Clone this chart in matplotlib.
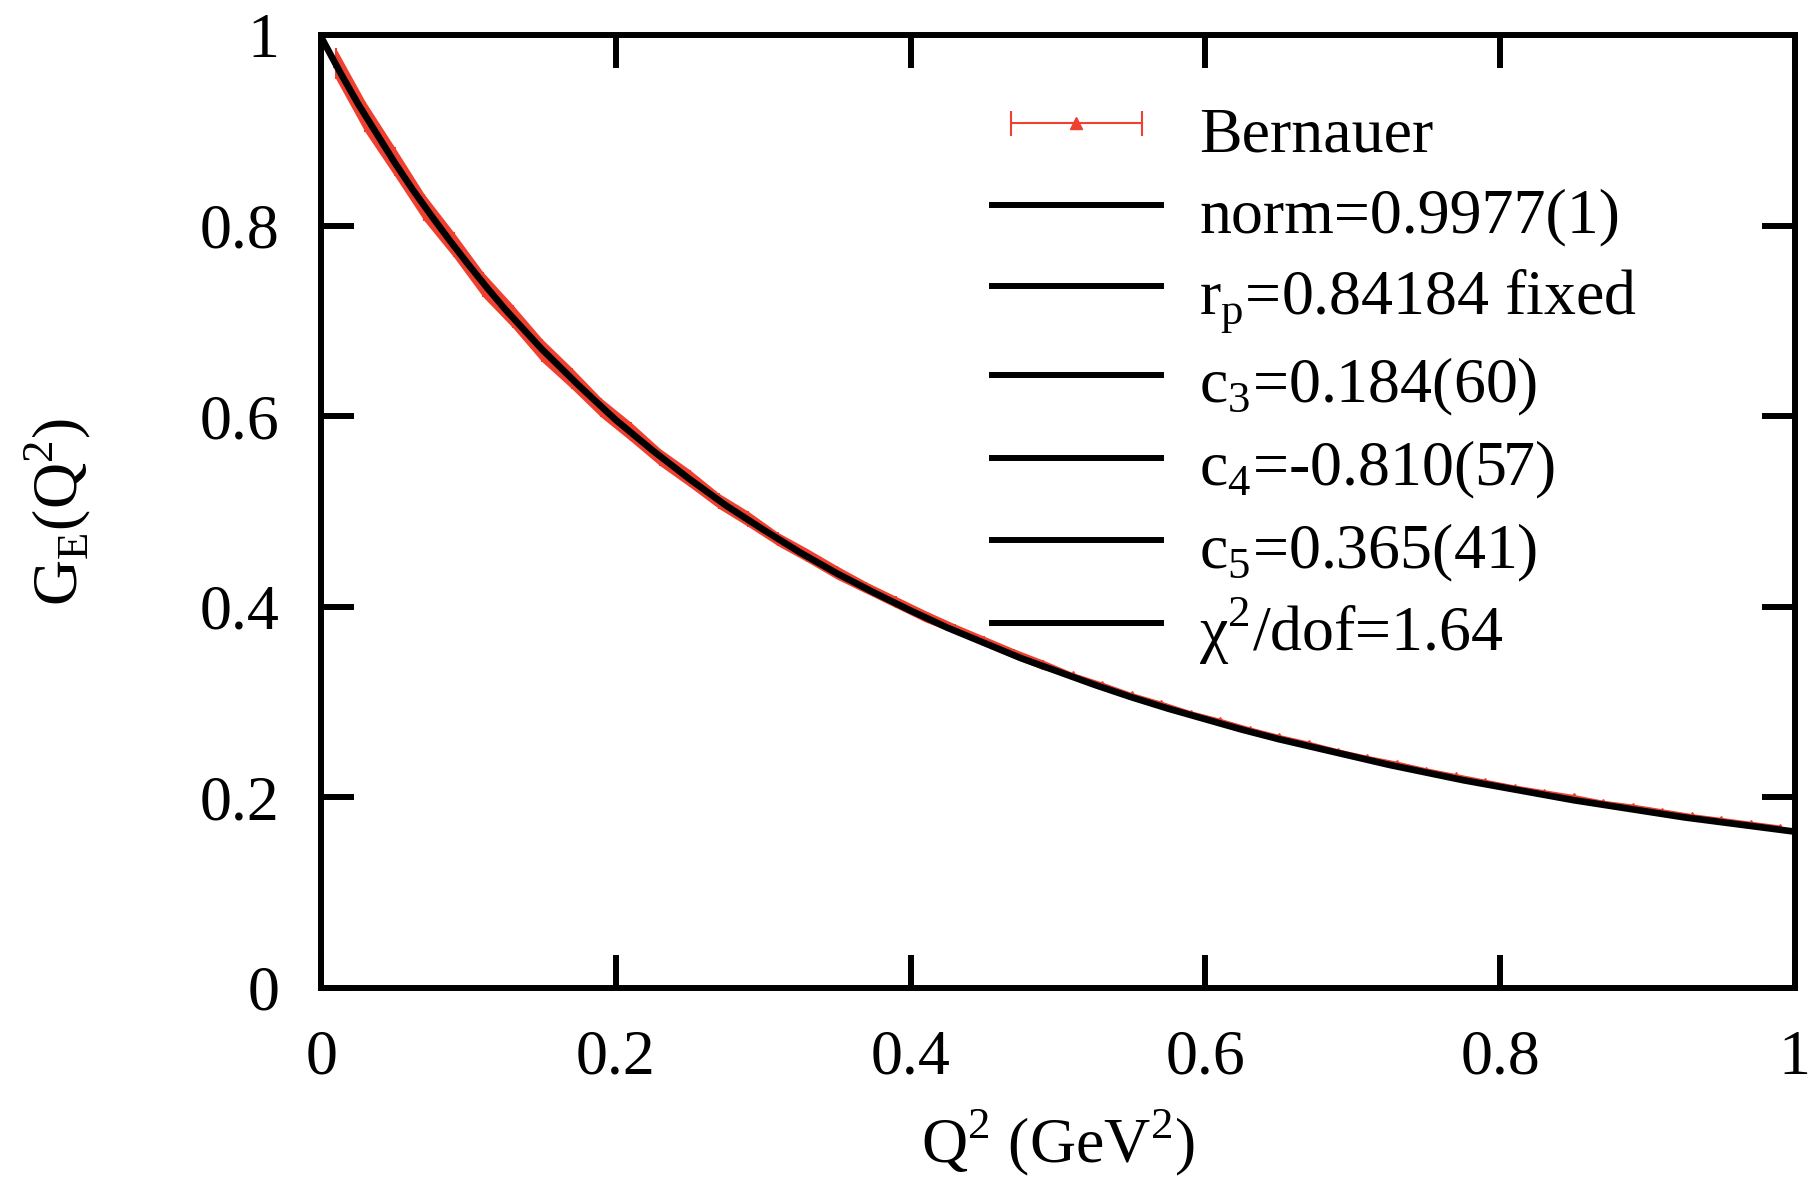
import matplotlib
matplotlib.use("Agg")
import matplotlib.pyplot as plt
import numpy as np
from matplotlib.lines import Line2D
from matplotlib.legend_handler import HandlerLine2D

plt.rcParams["font.family"] = ["Liberation Serif", "DejaVu Serif"]
plt.rcParams["mathtext.fontset"] = "custom"
plt.rcParams["mathtext.rm"] = "Liberation Serif"

# fit curve G_E(Q^2)
fit_q2 = [0.0, 0.0125, 0.025, 0.0375, 0.05, 0.0625, 0.075, 0.0875, 0.1, 0.1125, 0.125,
          0.1375, 0.15, 0.1625, 0.175, 0.1875, 0.2, 0.225, 0.25, 0.275,
          0.3, 0.325, 0.35, 0.375, 0.4, 0.425, 0.45, 0.475, 0.5, 0.525, 0.55, 0.575,
          0.6, 0.625, 0.65, 0.675, 0.7, 0.725, 0.75, 0.775, 0.8, 0.825, 0.85, 0.875,
          0.9, 0.925, 0.95, 0.975, 1.0]
fit_ge = [0.998, 0.962, 0.928, 0.897, 0.866, 0.837, 0.810, 0.784, 0.759, 0.735, 0.712,
          0.691, 0.670, 0.651, 0.632, 0.614, 0.596, 0.564, 0.534, 0.506,
          0.481, 0.457, 0.435, 0.415, 0.396, 0.378, 0.362, 0.346, 0.332, 0.318, 0.305, 0.293,
          0.282, 0.271, 0.261, 0.252, 0.243, 0.234, 0.226, 0.218, 0.211, 0.204, 0.197, 0.191,
          0.185, 0.179, 0.174, 0.169, 0.164]

# Bernauer data points
bern_q2 = [0.01, 0.03, 0.05, 0.07, 0.09, 0.11, 0.13, 0.15, 0.17, 0.19, 0.21, 0.23, 0.25,
           0.27, 0.29, 0.31, 0.33, 0.35, 0.37, 0.39, 0.41, 0.43, 0.45, 0.47, 0.49, 0.51,
           0.53, 0.55, 0.57, 0.59, 0.61, 0.63, 0.65, 0.67, 0.69, 0.71, 0.73, 0.75, 0.77,
           0.79, 0.81, 0.83, 0.85, 0.87, 0.89, 0.91, 0.93, 0.95, 0.97, 0.99]
bern_ge = [0.970, 0.914, 0.867, 0.819, 0.780, 0.738, 0.705, 0.669, 0.640, 0.609, 0.584, 0.557,
           0.535, 0.511, 0.492, 0.471, 0.454, 0.436, 0.420, 0.405, 0.390, 0.377, 0.364, 0.351,
           0.339, 0.329, 0.319, 0.308, 0.299, 0.289, 0.281, 0.272, 0.264, 0.257, 0.249, 0.242,
           0.236, 0.229, 0.223, 0.217, 0.211, 0.206, 0.201, 0.195, 0.191, 0.186, 0.181, 0.177,
           0.173, 0.169]
bern_err = [0.016, 0.016, 0.015, 0.014, 0.013, 0.013, 0.012, 0.012, 0.011, 0.010, 0.010, 0.009,
            0.009, 0.008, 0.008, 0.007, 0.007, 0.007, 0.006, 0.006, 0.006, 0.005, 0.005, 0.005,
            0.005, 0.002, 0.002, 0.002, 0.002, 0.002, 0.002, 0.002, 0.002, 0.002, 0.002, 0.002,
            0.002, 0.002, 0.002, 0.002, 0.002, 0.002, 0.002, 0.002, 0.002, 0.002, 0.002, 0.002,
            0.002, 0.002]

fit_labels = ["norm=0.9977(1)",
              r"r$_\mathregular{p}$=0.84184 fixed",
              r"c$_\mathregular{3}$=0.184(60)",
              r"c$_\mathregular{4}$=-0.810(57)",
              r"c$_\mathregular{5}$=0.365(41)",
              r"χ$^\mathregular{2}$/dof=1.64"]

xticks = [0, 0.2, 0.4, 0.6, 0.8, 1]
xticklabels = ["0", "0.2", "0.4", "0.6", "0.8", "1"]
yticks = [0, 0.2, 0.4, 0.6, 0.8, 1]
yticklabels = ["0", "0.2", "0.4", "0.6", "0.8", "1"]

red = "#f0402f"
fs = 46

fig = plt.figure(figsize=(18.15, 11.87), dpi=100)
ax = fig.add_axes([0.1769, 0.1677, 0.812, 0.8028])

# dense data -> error band shows as red halo around the fit
b = np.array(bern_ge)
e = np.array(bern_err)
ax.fill_between(bern_q2, b - e, b + e, color=red, lw=0, zorder=1)
ax.errorbar(bern_q2, bern_ge, yerr=bern_err, fmt="-^", color=red, ms=5, lw=1.2,
            elinewidth=1.5, capsize=0, zorder=2)
ax.plot(fit_q2, fit_ge, color="black", lw=4.8, zorder=3)

ax.set_xlim(0, 1)
ax.set_ylim(0, 1)
ax.set_xticks(xticks)
ax.set_xticklabels(xticklabels)
ax.set_yticks(yticks)
ax.set_yticklabels(yticklabels)
ax.tick_params(direction="in", length=24, width=4.3, labelsize=fs, pad=30,
               top=True, right=True)
for s in ax.spines.values():
    s.set_linewidth(4.3)

ax.set_xlabel(r"Q$^\mathregular{2}$ (GeV$^\mathregular{2}$)", fontsize=fs, labelpad=14)
ax.set_ylabel(r"G$_\mathregular{E}$(Q$^\mathregular{2}$)", fontsize=fs, labelpad=77)

# legend handles
caps = Line2D([0], [0], color=red, lw=1.5, marker="|", ms=18, mew=1.5)
tri = Line2D([0], [0], color=red, ls="none", marker="^", ms=8)
handles = [(caps, tri)] + [Line2D([0], [0], color="black", lw=4.3) for _ in fit_labels]
labels = ["Bernauer"] + fit_labels
ax.legend(handles, labels, loc="upper left", bbox_to_anchor=(0.4376, 0.9636),
          frameon=False, fontsize=fs, handlelength=2.65, handletextpad=0.6,
          handleheight=1.28, labelspacing=0.18, borderaxespad=0,
          handler_map={caps: HandlerLine2D(numpoints=2), tri: HandlerLine2D(numpoints=1)})

fig.savefig("out.png", dpi=100)
